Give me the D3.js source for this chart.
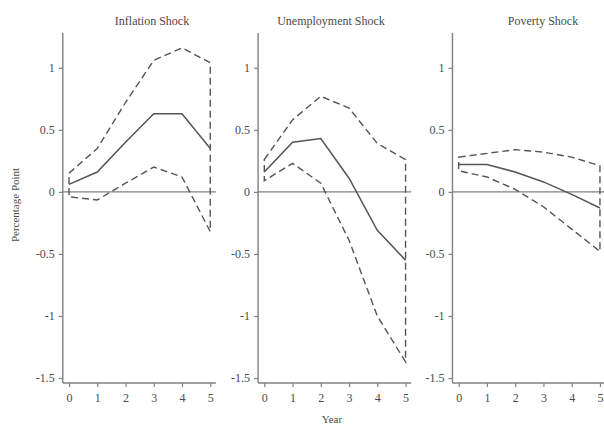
<!DOCTYPE html>
<html>
<head>
<meta charset="utf-8">
<script src="https://cdn.jsdelivr.net/npm/d3@7"></script>
<style>
  body { margin: 0; background: #fff; }
  text { font-family: "Liberation Serif", "DejaVu Serif", serif; fill: #4a4a4a; }
</style>
</head>
<body>
<div id="chart"></div>
<script>
//-------------------------------------
// data
//-------------------------------------
var years = [0, 1, 2, 3, 4, 5];
var titles = ["Inflation Shock", "Unemployment Shock", "Poverty Shock"];
var yTicks = [1, 0.5, 0, -0.5, -1, -1.5];

var inflationMid   = [0.06, 0.16, 0.40, 0.63, 0.63, 0.35];
var inflationUpper = [0.15, 0.35, 0.72, 1.06, 1.16, 1.04];
var inflationLower = [-0.04, -0.065, 0.07, 0.20, 0.12, -0.32];

var unempMid   = [0.16, 0.40, 0.43, 0.11, -0.31, -0.55];
var unempUpper = [0.26, 0.58, 0.77, 0.675, 0.39, 0.26];
var unempLower = [0.09, 0.23, 0.07, -0.39, -1.0, -1.37];

var povertyMid   = [0.22, 0.22, 0.16, 0.08, -0.02, -0.13];
var povertyUpper = [0.28, 0.31, 0.34, 0.32, 0.28, 0.21];
var povertyLower = [0.17, 0.12, 0.02, -0.12, -0.30, -0.48];

var mids = [inflationMid, unempMid, povertyMid];
var uppers = [inflationUpper, unempUpper, povertyUpper];
var lowers = [inflationLower, unempLower, povertyLower];

//-------------------------------------
// layout
//-------------------------------------
var width = 604;
var height = 425;
var tick0 = [69, 264.3, 458.7];   // pixel of year 0 in each panel
var step = 28.25;
var titleX = [152, 331, 543];

var svg = d3.select("#chart")
	.append("svg")
	.attr("width", width)
	.attr("height", height);

var y = d3.scaleLinear().domain([-1.54, 1.28]).range([383, 33]);

var lineColor = "#555";
var axisColor = "#808080";

titles.forEach(function(title, p) {
	var x = d3.scaleLinear()
		.domain([0, 5])
		.range([tick0[p], tick0[p] + 5 * step]);
	var left = x(-0.22);
	var right = x(5.2);

	var g = svg.append("g");

	// title
	g.append("text")
		.attr("x", titleX[p])
		.attr("y", 25)
		.attr("text-anchor", "middle")
		.style("font-size", "12px")
		.text(title);

	// zero line
	g.append("line")
		.attr("x1", left).attr("x2", right)
		.attr("y1", y(0)).attr("y2", y(0))
		.attr("stroke", axisColor)
		.attr("stroke-width", 1.4);

	// y axis
	var yAxis = d3.axisLeft(y)
		.tickValues(yTicks)
		.tickSize(4)
		.tickPadding(4)
		.tickFormat(function(d) { return String(d); });
	var ya = g.append("g")
		.attr("transform", "translate(" + left + ",0)")
		.call(yAxis);
	ya.select(".domain").attr("d", "M0," + y(1.28) + "V" + y(-1.54));

	// x axis
	var xAxis = d3.axisBottom(x)
		.tickValues(years)
		.tickSize(4)
		.tickPadding(6)
		.tickFormat(function(d) { return String(d); });
	var xa = g.append("g")
		.attr("transform", "translate(0," + y(-1.54) + ")")
		.call(xAxis);
	xa.select(".domain").attr("d", "M" + left + ",0H" + right);

	[ya, xa].forEach(function(a) {
		a.select(".domain").attr("stroke", axisColor).attr("stroke-width", 1.4).attr("fill", "none");
		a.selectAll(".tick line").attr("stroke", axisColor).attr("stroke-width", 1.2);
		a.selectAll(".tick text")
			.style("font-family", "'Liberation Serif', serif")
			.style("font-size", "12px")
			.attr("fill", "#4a4a4a");
	});

	// confidence band outline (dashed, closed at both ends)
	var band = years.map(function(d, i) { return [x(d), y(uppers[p][i])]; })
		.concat(years.slice().reverse().map(function(d) {
			var i = years.indexOf(d);
			return [x(d), y(lowers[p][i])];
		}));
	g.append("path")
		.attr("d", d3.line()(band) + "Z")
		.attr("fill", "none")
		.attr("stroke", lineColor)
		.attr("stroke-width", 1.4)
		.attr("stroke-dasharray", "7,4");

	// point estimate
	var line = d3.line()
		.x(function(d) { return x(d); })
		.y(function(d, i) { return y(mids[p][i]); });
	g.append("path")
		.datum(years)
		.attr("d", line)
		.attr("fill", "none")
		.attr("stroke", lineColor)
		.attr("stroke-width", 1.5);
});

// axis titles
svg.append("text")
	.attr("transform", "translate(19,205) rotate(-90)")
	.attr("text-anchor", "middle")
	.style("font-size", "11px")
	.text("Percentage Point");

svg.append("text")
	.attr("x", 332)
	.attr("y", 423)
	.attr("text-anchor", "middle")
	.style("font-size", "11px")
	.text("Year");
</script>
</body>
</html>
